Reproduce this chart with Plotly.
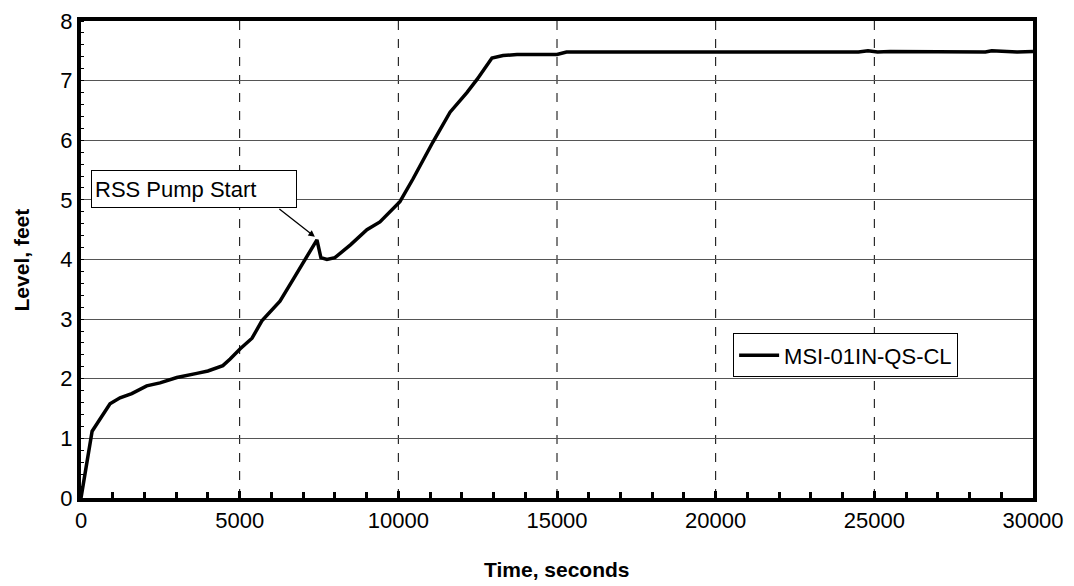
import plotly.graph_objects as go

time_s = [0, 350, 914, 1230, 1600, 2070, 2490, 3020, 3650, 4000, 4470, 4700, 5010, 5390,
          5700, 6270, 6700, 7000, 7435, 7560, 7750, 8000, 8160, 8500, 9010, 9420, 10050,
          10460, 11090, 11630, 12160, 12480, 12950, 13300, 13740, 14500, 15000, 15300,
          20000, 24500, 24800, 25100, 25500, 28500, 28700, 29500, 30000]
level_ft = [0, 1.12, 1.58, 1.68, 1.75, 1.88, 1.93, 2.02, 2.09, 2.13, 2.22, 2.33, 2.5, 2.68,
            2.97, 3.3, 3.68, 3.95, 4.33, 4.03, 4.0, 4.03, 4.1, 4.25, 4.5, 4.63, 4.97,
            5.35, 5.97, 6.47, 6.8, 7.02, 7.38, 7.42, 7.44, 7.44, 7.44, 7.48,
            7.48, 7.48, 7.5, 7.48, 7.49, 7.48, 7.5, 7.48, 7.49]
series_name = "MSI-01IN-QS-CL"
x_ticks = [0, 5000, 10000, 15000, 20000, 25000, 30000]
x_labels = ["0", "5000", "10000", "15000", "20000", "25000", "30000"]
y_ticks = [0, 1, 2, 3, 4, 5, 6, 7, 8]

FONT = "Liberation Sans, Arial, sans-serif"

fig = go.Figure()
fig.add_trace(go.Scatter(x=time_s, y=level_ft, mode="lines", name=series_name,
                         line=dict(color="black", width=3.5)))

# dashed vertical gridlines
for xv in x_ticks[1:-1]:
    fig.add_shape(type="line", xref="x", yref="y", x0=xv, x1=xv, y0=0, y1=8,
                  line=dict(color="black", width=1, dash="dash"), layer="below")

fig.update_layout(
    width=1066, height=578,
    margin=dict(l=73, r=41, t=13, b=88, autoexpand=False),
    paper_bgcolor="white", plot_bgcolor="white",
    font=dict(family=FONT, size=22, color="black"),
    showlegend=True,
    legend=dict(x=0.685, y=0.345, xanchor="left", yanchor="top",
                bordercolor="black", borderwidth=1, bgcolor="white",
                font=dict(size=22), itemwidth=40, tracegroupgap=0),
    xaxis=dict(range=[0, 30000], tickvals=x_ticks, ticktext=x_labels, showgrid=False,
               zeroline=False, automargin=False, ticklabeloverflow="allow",
               showline=True, linecolor="black", linewidth=4, mirror=True,
               ticks="inside", ticklen=7, tickwidth=3, tickcolor="black",
               minor=dict(dtick=1000, ticks="inside", ticklen=6, tickwidth=3,
                          tickcolor="black", showgrid=False),
               tickfont=dict(size=22)),
    yaxis=dict(range=[0, 8], tickvals=y_ticks, showgrid=True, gridcolor="#555555",
               gridwidth=1, zeroline=False, automargin=False, ticklabeloverflow="allow",
               showline=True, linecolor="black", linewidth=4, mirror=True,
               ticks="",
               minor=dict(dtick=0.2, ticks="inside", ticklen=3, tickwidth=1,
                          tickcolor="black", showgrid=False),
               tickfont=dict(size=22)),
)

# axis titles
fig.add_annotation(x=0.5, y=-0.15, xref="paper", yref="paper", text="<b>Time, seconds</b>",
                   showarrow=False, font=dict(size=21), xanchor="center", yanchor="middle")
fig.add_annotation(x=-0.062, y=0.5, xref="paper", yref="paper", text="<b>Level, feet</b>",
                   showarrow=False, font=dict(size=21), textangle=-90,
                   xanchor="center", yanchor="middle")

# annotation box
fig.add_annotation(x=3561, y=5.18, xref="x", yref="y", text="RSS Pump Start",
                   showarrow=False, bordercolor="black", borderwidth=1, bgcolor="white",
                   borderpad=3, width=198, height=30, align="left", font=dict(size=22))
# arrow
fig.add_annotation(x=7370, y=4.38, xref="x", yref="y", text="", showarrow=True,
                   ax=-37, ay=-29, arrowhead=2, arrowsize=1, arrowwidth=1.3,
                   arrowcolor="black")

fig.write_html("out.html")
